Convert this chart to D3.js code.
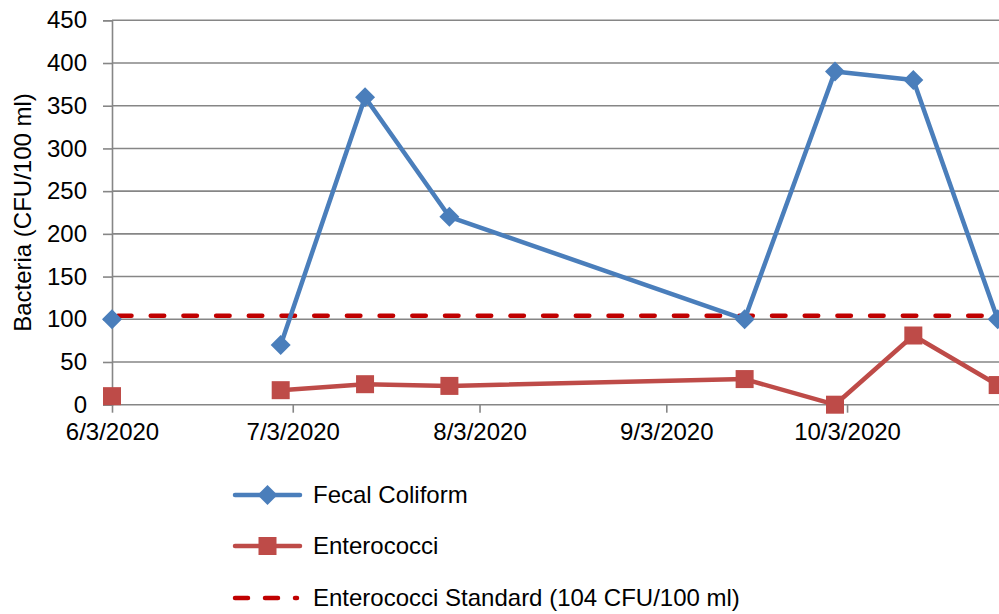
<!DOCTYPE html>
<html>
<head>
<meta charset="utf-8">
<script src="https://cdn.jsdelivr.net/npm/d3@7"></script>
<style>
  html, body { margin: 0; padding: 0; background: #fff; overflow: hidden; }
  svg { display: block; font-family: "Liberation Sans", Arial, sans-serif; }
</style>
</head>
<body>
<svg id="chart" width="999" height="614"></svg>
<script>
// ---- data ----
// 6/17/2020: no sample (null) -> gap in the lines
const sampleDates = ["6/3/2020","6/17/2020","7/1/2020","7/15/2020","7/29/2020","9/16/2020","10/1/2020","10/14/2020","10/28/2020"];
const fecalColiform = [100, null, 70, 360, 220, 100, 390, 380, 100];
const enterococci = [10, null, 17, 24, 22, 30, 0, 81, 23];
const enterococciStandard = 104;
const xTickLabels = ["6/3/2020","7/3/2020","8/3/2020","9/3/2020","10/3/2020"];
const xDomainLabels = ["6/3/2020","11/3/2020"];
const yTicks = [0, 50, 100, 150, 200, 250, 300, 350, 400, 450];
const seriesNames = ["Fecal Coliform", "Enterococci", "Enterococci Standard (104 CFU/100 ml)"];
const yTitle = "Bacteria (CFU/100 ml)";

(function () {
const parse = d3.timeParse("%-m/%-d/%Y");
const W = 999, H = 614;
const svg = d3.select("#chart");

const plotLeft = 112, plotTop = 20.3, plotBottom = 404.7;
const pxPerDay = 6.025;
const d0 = parse(xDomainLabels[0]), d1 = parse(xDomainLabels[1]);
const days = (d1 - d0) / 86400000;
const x = d3.scaleTime().domain([d0, d1]).range([plotLeft, plotLeft + days * pxPerDay]);
const y = d3.scaleLinear().domain([0, 450]).range([plotBottom, plotTop]);

const gridColor = "#868686";
const blue = "#4A7EBB", red = "#BE4B48", stdRed = "#C00000";
const fontSize = 24;
const ff = "Liberation Sans, Arial, sans-serif";

// gridlines
svg.append("g").selectAll("line").data(yTicks.filter(t => t > 0)).join("line")
  .attr("x1", plotLeft).attr("x2", W)
  .attr("y1", d => y(d)).attr("y2", d => y(d))
  .attr("stroke", gridColor).attr("stroke-width", 1.6);

// y axis
const yAxis = d3.axisLeft(y).tickValues(yTicks).tickSize(9).tickPadding(16);
const gy = svg.append("g").attr("transform", `translate(${plotLeft},0)`).call(yAxis);
gy.select(".domain").attr("stroke", gridColor).attr("stroke-width", 1.6);
gy.selectAll(".tick line").attr("stroke", gridColor).attr("stroke-width", 1.6);
gy.selectAll(".tick text").attr("font-size", fontSize).attr("font-family", ff).attr("fill", "#000");

// x axis
const xTicks = xTickLabels.map(parse);
const xAxis = d3.axisBottom(x).tickValues(xTicks).tickFormat(d3.timeFormat("%-m/%-d/%Y")).tickSize(8).tickPadding(10);
const gx = svg.append("g").attr("transform", `translate(0,${plotBottom})`).call(xAxis);
gx.select(".domain").remove();
gx.append("line").attr("x1", plotLeft).attr("x2", W).attr("y1", 0).attr("y2", 0)
  .attr("stroke", gridColor).attr("stroke-width", 1.6);
gx.selectAll(".tick line").attr("stroke", gridColor).attr("stroke-width", 1.6);
gx.selectAll(".tick text").attr("font-size", fontSize).attr("font-family", ff).attr("fill", "#000");

// y title
svg.append("text")
  .attr("transform", `translate(31,${(plotTop + plotBottom) / 2}) rotate(-90)`)
  .attr("text-anchor", "middle")
  .attr("font-size", fontSize)
  .attr("font-family", ff)
  .attr("fill", "#000")
  .text(yTitle);

const dates = sampleDates.map(parse);
const line = d3.line().defined(d => d[1] != null).x(d => x(d[0])).y(d => y(d[1]));

// standard line
svg.append("line")
  .attr("x1", x(d0)).attr("x2", W + 20)
  .attr("y1", y(enterococciStandard)).attr("y2", y(enterococciStandard))
  .attr("stroke", stdRed).attr("stroke-width", 4.5)
  .attr("stroke-dasharray", "13.5,19.2").attr("stroke-linecap", "round")
  .attr("stroke-dashoffset", -6);

// enterococci
const eData = dates.map((d, i) => [d, enterococci[i]]);
svg.append("path").attr("d", line(eData)).attr("fill", "none")
  .attr("stroke", red).attr("stroke-width", 4.5).attr("stroke-linejoin", "round");
svg.append("g").selectAll("rect").data(eData.filter(d => d[1] != null)).join("rect")
  .attr("x", d => x(d[0]) - 9).attr("y", d => y(d[1]) - 9)
  .attr("width", 18).attr("height", 18).attr("fill", red);

// fecal coliform
const fData = dates.map((d, i) => [d, fecalColiform[i]]);
svg.append("path").attr("d", line(fData)).attr("fill", "none")
  .attr("stroke", blue).attr("stroke-width", 4.5).attr("stroke-linejoin", "round");
const diamond = "M0,-10L10,0L0,10L-10,0Z";
svg.append("g").selectAll("path").data(fData.filter(d => d[1] != null)).join("path")
  .attr("d", diamond)
  .attr("transform", d => `translate(${x(d[0])},${y(d[1])})`)
  .attr("fill", blue);

// legend
const legX1 = 235, legX2 = 300, legTextX = 313;
const legY = [495, 546, 598];
const lg = svg.append("g");
lg.append("line").attr("x1", legX1).attr("x2", legX2).attr("y1", legY[0]).attr("y2", legY[0])
  .attr("stroke", blue).attr("stroke-width", 4.5).attr("stroke-linecap", "round");
lg.append("path").attr("d", diamond).attr("transform", `translate(${(legX1 + legX2) / 2},${legY[0]})`).attr("fill", blue);
lg.append("line").attr("x1", legX1).attr("x2", legX2).attr("y1", legY[1]).attr("y2", legY[1])
  .attr("stroke", red).attr("stroke-width", 4.5).attr("stroke-linecap", "round");
lg.append("rect").attr("x", (legX1 + legX2) / 2 - 9).attr("y", legY[1] - 9).attr("width", 18).attr("height", 18).attr("fill", red);
lg.append("line").attr("x1", legX1).attr("x2", 297).attr("y1", legY[2]).attr("y2", legY[2])
  .attr("stroke", stdRed).attr("stroke-width", 4.5).attr("stroke-linecap", "round")
  .attr("stroke-dasharray", "13,17");

lg.selectAll("text").data(seriesNames).join("text")
  .attr("x", legTextX).attr("y", (d, i) => legY[i])
  .attr("dy", "0.35em")
  .attr("font-size", fontSize).attr("font-family", ff).attr("fill", "#000")
  .text(d => d);
})();
</script>
</body>
</html>
